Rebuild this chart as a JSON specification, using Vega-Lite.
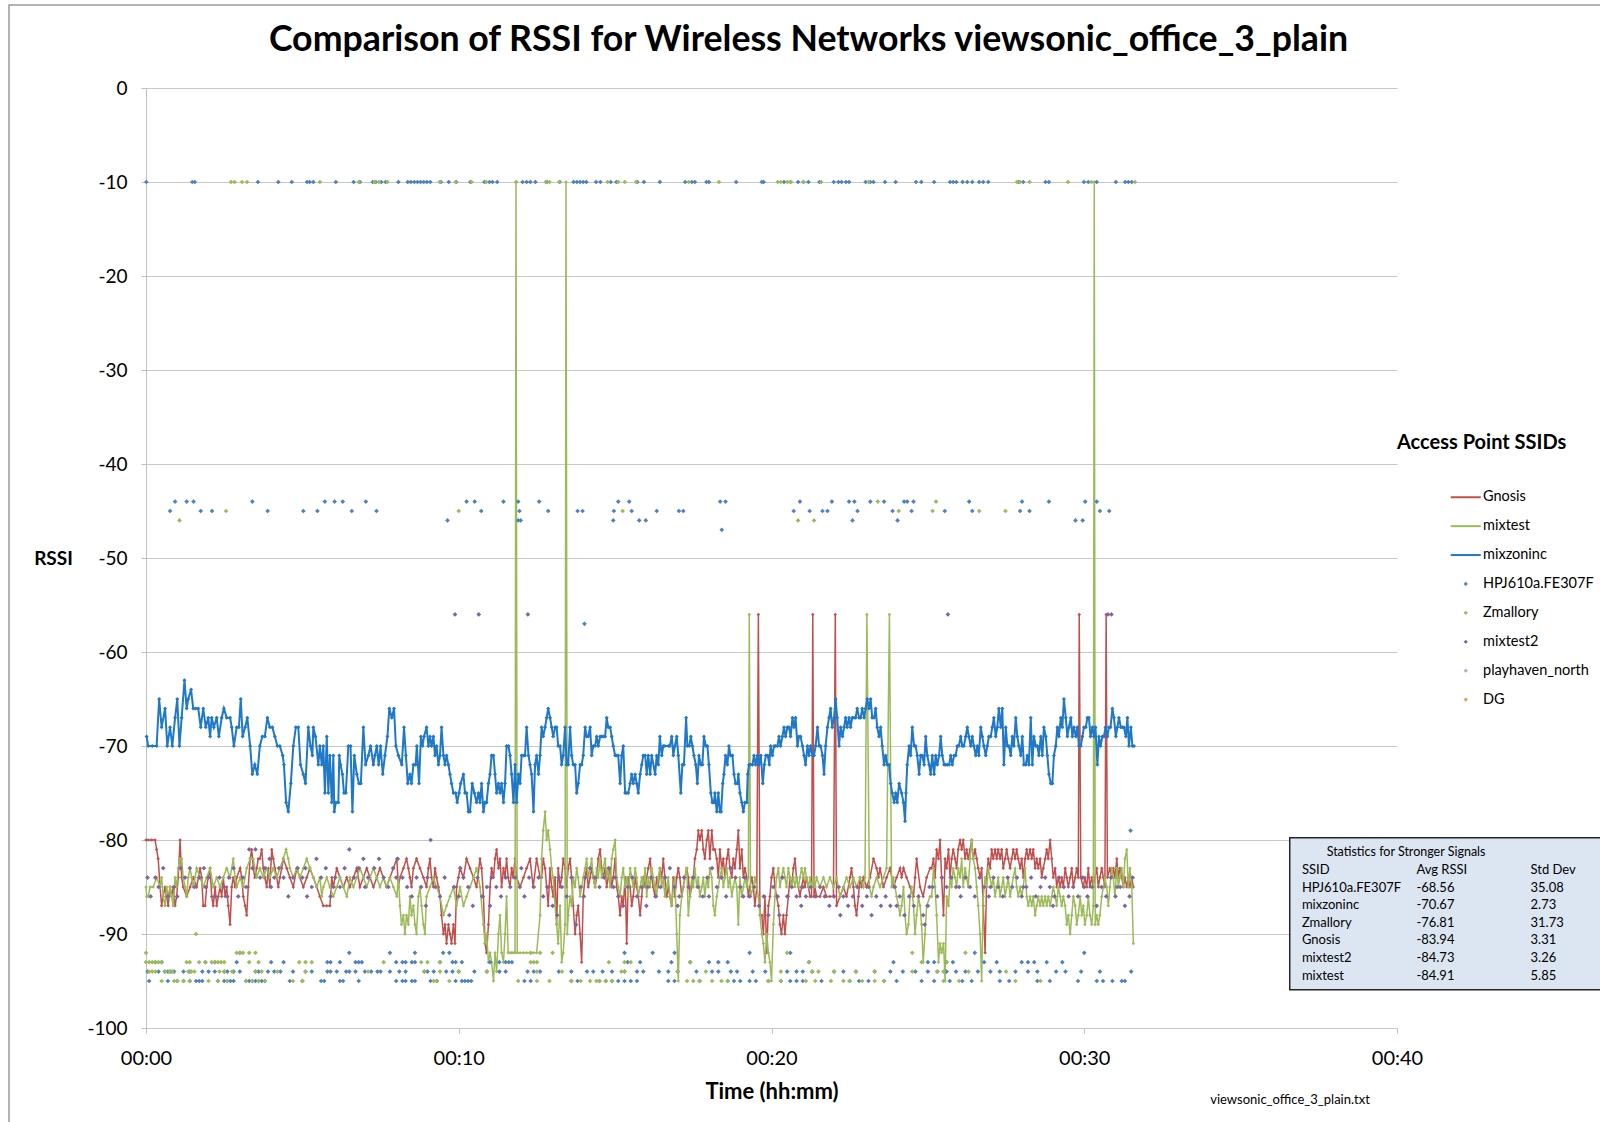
{
"$schema": "https://vega.github.io/schema/vega-lite/v6.json",
"width": 1251, "height": 940,
"autosize": {"type": "none"},
"padding": {"left": 146, "top": 88, "right": 203, "bottom": 94},
"background": "white",
"title": {"text": "Comparison of RSSI for Wireless Networks viewsonic_office_3_plain", "fontSize": 35.7, "font": "Lato", "fontWeight": "bold", "color": "#000000", "anchor": "middle", "frame": "group", "dx": 37, "offset": -82, "baseline": "alphabetic"},
"config": {"font": "Lato", "view": {"stroke": null}, "axis": {"labelFont": "Lato", "titleFont": "Lato", "labelColor": "#000000", "titleColor": "#000000"}},
"datasets": {
"mz": [{"t":0.02,"v":-69},{"t":0.07,"v":-70},{"t":0.2,"v":-70},{"t":0.34,"v":-70},{"t":0.42,"v":-65},{"t":0.5,"v":-68},{"t":0.61,"v":-66},{"t":0.68,"v":-70},{"t":0.77,"v":-68},{"t":0.84,"v":-70},{"t":0.93,"v":-67},{"t":1.0,"v":-65},{"t":1.07,"v":-70},{"t":1.14,"v":-67},{"t":1.23,"v":-63},{"t":1.3,"v":-66},{"t":1.35,"v":-65},{"t":1.44,"v":-64},{"t":1.51,"v":-66},{"t":1.59,"v":-66},{"t":1.67,"v":-66},{"t":1.75,"v":-68},{"t":1.83,"v":-66},{"t":1.91,"v":-68},{"t":1.99,"v":-67},{"t":2.05,"v":-69},{"t":2.1,"v":-67},{"t":2.17,"v":-68},{"t":2.26,"v":-67},{"t":2.33,"v":-69},{"t":2.42,"v":-67},{"t":2.49,"v":-66},{"t":2.58,"v":-67},{"t":2.69,"v":-67},{"t":2.74,"v":-68},{"t":2.81,"v":-70},{"t":2.9,"v":-68},{"t":2.97,"v":-68},{"t":3.03,"v":-65},{"t":3.09,"v":-69},{"t":3.17,"v":-68},{"t":3.24,"v":-67},{"t":3.33,"v":-70},{"t":3.4,"v":-73},{"t":3.48,"v":-72},{"t":3.56,"v":-73},{"t":3.64,"v":-70},{"t":3.72,"v":-69},{"t":3.8,"v":-69},{"t":3.88,"v":-67},{"t":3.96,"v":-68},{"t":4.04,"v":-68},{"t":4.12,"v":-69},{"t":4.2,"v":-70},{"t":4.28,"v":-70},{"t":4.37,"v":-71},{"t":4.41,"v":-72},{"t":4.48,"v":-76},{"t":4.55,"v":-77},{"t":4.63,"v":-74},{"t":4.71,"v":-70},{"t":4.79,"v":-68},{"t":4.87,"v":-68},{"t":4.94,"v":-72},{"t":5.03,"v":-73},{"t":5.1,"v":-74},{"t":5.19,"v":-68},{"t":5.26,"v":-70},{"t":5.32,"v":-71},{"t":5.35,"v":-68},{"t":5.42,"v":-69},{"t":5.51,"v":-72},{"t":5.56,"v":-70},{"t":5.62,"v":-72},{"t":5.67,"v":-70},{"t":5.72,"v":-75},{"t":5.78,"v":-69},{"t":5.83,"v":-75},{"t":5.88,"v":-71},{"t":5.94,"v":-76},{"t":5.99,"v":-71},{"t":6.02,"v":-77},{"t":6.07,"v":-76},{"t":6.15,"v":-76},{"t":6.18,"v":-71},{"t":6.22,"v":-72},{"t":6.28,"v":-73},{"t":6.33,"v":-75},{"t":6.39,"v":-75},{"t":6.47,"v":-70},{"t":6.54,"v":-70},{"t":6.6,"v":-77},{"t":6.66,"v":-71},{"t":6.74,"v":-73},{"t":6.81,"v":-74},{"t":6.87,"v":-74},{"t":6.95,"v":-68},{"t":7.02,"v":-72},{"t":7.11,"v":-71},{"t":7.18,"v":-70},{"t":7.27,"v":-72},{"t":7.32,"v":-71},{"t":7.38,"v":-70},{"t":7.44,"v":-72},{"t":7.5,"v":-70},{"t":7.57,"v":-73},{"t":7.64,"v":-71},{"t":7.72,"v":-69},{"t":7.78,"v":-66},{"t":7.86,"v":-67},{"t":7.93,"v":-66},{"t":7.99,"v":-70},{"t":8.07,"v":-71},{"t":8.18,"v":-72},{"t":8.25,"v":-68},{"t":8.31,"v":-71},{"t":8.37,"v":-74},{"t":8.44,"v":-73},{"t":8.49,"v":-74},{"t":8.55,"v":-72},{"t":8.62,"v":-72},{"t":8.66,"v":-70},{"t":8.73,"v":-74},{"t":8.79,"v":-69},{"t":8.84,"v":-70},{"t":8.89,"v":-69},{"t":8.97,"v":-68},{"t":9.03,"v":-70},{"t":9.08,"v":-69},{"t":9.13,"v":-70},{"t":9.19,"v":-69},{"t":9.24,"v":-71},{"t":9.29,"v":-70},{"t":9.35,"v":-72},{"t":9.4,"v":-71},{"t":9.45,"v":-68},{"t":9.51,"v":-71},{"t":9.56,"v":-72},{"t":9.61,"v":-71},{"t":9.67,"v":-72},{"t":9.72,"v":-73},{"t":9.77,"v":-74},{"t":9.83,"v":-75},{"t":9.9,"v":-75},{"t":9.95,"v":-76},{"t":10.01,"v":-75},{"t":10.06,"v":-74},{"t":10.15,"v":-73},{"t":10.2,"v":-75},{"t":10.25,"v":-75},{"t":10.31,"v":-77},{"t":10.36,"v":-77},{"t":10.43,"v":-74},{"t":10.5,"v":-75},{"t":10.57,"v":-76},{"t":10.63,"v":-75},{"t":10.68,"v":-76},{"t":10.73,"v":-74},{"t":10.79,"v":-77},{"t":10.84,"v":-76},{"t":10.89,"v":-76},{"t":10.95,"v":-74},{"t":11.0,"v":-73},{"t":11.05,"v":-71},{"t":11.11,"v":-71},{"t":11.16,"v":-73},{"t":11.21,"v":-75},{"t":11.27,"v":-74},{"t":11.32,"v":-75},{"t":11.37,"v":-74},{"t":11.43,"v":-76},{"t":11.48,"v":-74},{"t":11.53,"v":-70},{"t":11.59,"v":-70},{"t":11.64,"v":-71},{"t":11.69,"v":-73},{"t":11.75,"v":-76},{"t":11.8,"v":-72},{"t":11.85,"v":-76},{"t":11.91,"v":-73},{"t":11.96,"v":-74},{"t":12.01,"v":-71},{"t":12.07,"v":-71},{"t":12.12,"v":-71},{"t":12.17,"v":-68},{"t":12.23,"v":-71},{"t":12.28,"v":-72},{"t":12.33,"v":-73},{"t":12.39,"v":-77},{"t":12.44,"v":-72},{"t":12.49,"v":-71},{"t":12.55,"v":-73},{"t":12.6,"v":-71},{"t":12.65,"v":-68},{"t":12.7,"v":-69},{"t":12.76,"v":-68},{"t":12.81,"v":-67},{"t":12.86,"v":-66},{"t":12.92,"v":-67},{"t":12.97,"v":-68},{"t":13.02,"v":-69},{"t":13.08,"v":-68},{"t":13.13,"v":-68},{"t":13.18,"v":-70},{"t":13.24,"v":-70},{"t":13.29,"v":-72},{"t":13.34,"v":-71},{"t":13.4,"v":-68},{"t":13.45,"v":-72},{"t":13.5,"v":-72},{"t":13.56,"v":-68},{"t":13.61,"v":-71},{"t":13.66,"v":-72},{"t":13.72,"v":-72},{"t":13.77,"v":-75},{"t":13.82,"v":-74},{"t":13.88,"v":-72},{"t":13.93,"v":-72},{"t":13.98,"v":-71},{"t":14.04,"v":-68},{"t":14.09,"v":-69},{"t":14.14,"v":-69},{"t":14.2,"v":-68},{"t":14.25,"v":-71},{"t":14.3,"v":-70},{"t":14.36,"v":-70},{"t":14.41,"v":-69},{"t":14.46,"v":-70},{"t":14.52,"v":-69},{"t":14.57,"v":-69},{"t":14.62,"v":-69},{"t":14.68,"v":-69},{"t":14.73,"v":-67},{"t":14.78,"v":-68},{"t":14.84,"v":-68},{"t":14.89,"v":-69},{"t":14.94,"v":-70},{"t":15.0,"v":-71},{"t":15.05,"v":-71},{"t":15.1,"v":-71},{"t":15.16,"v":-74},{"t":15.21,"v":-71},{"t":15.26,"v":-70},{"t":15.32,"v":-75},{"t":15.37,"v":-75},{"t":15.42,"v":-75},{"t":15.48,"v":-74},{"t":15.53,"v":-73},{"t":15.58,"v":-74},{"t":15.64,"v":-73},{"t":15.69,"v":-74},{"t":15.74,"v":-75},{"t":15.8,"v":-73},{"t":15.85,"v":-72},{"t":15.9,"v":-71},{"t":15.96,"v":-71},{"t":16.01,"v":-73},{"t":16.06,"v":-71},{"t":16.12,"v":-73},{"t":16.17,"v":-71},{"t":16.28,"v":-73},{"t":16.33,"v":-71},{"t":16.38,"v":-72},{"t":16.43,"v":-69},{"t":16.49,"v":-71},{"t":16.54,"v":-70},{"t":16.59,"v":-70},{"t":16.7,"v":-70},{"t":16.75,"v":-70},{"t":16.81,"v":-69},{"t":16.86,"v":-71},{"t":16.91,"v":-70},{"t":16.97,"v":-69},{"t":17.02,"v":-71},{"t":17.1,"v":-75},{"t":17.15,"v":-72},{"t":17.2,"v":-72},{"t":17.27,"v":-67},{"t":17.31,"v":-70},{"t":17.37,"v":-70},{"t":17.42,"v":-69},{"t":17.47,"v":-70},{"t":17.52,"v":-71},{"t":17.58,"v":-72},{"t":17.63,"v":-74},{"t":17.68,"v":-71},{"t":17.74,"v":-72},{"t":17.79,"v":-72},{"t":17.84,"v":-69},{"t":17.9,"v":-70},{"t":17.95,"v":-70},{"t":18.0,"v":-72},{"t":18.06,"v":-75},{"t":18.11,"v":-76},{"t":18.16,"v":-76},{"t":18.19,"v":-75},{"t":18.25,"v":-77},{"t":18.3,"v":-75},{"t":18.35,"v":-77},{"t":18.39,"v":-77},{"t":18.44,"v":-74},{"t":18.48,"v":-73},{"t":18.53,"v":-71},{"t":18.59,"v":-72},{"t":18.64,"v":-70},{"t":18.69,"v":-71},{"t":18.75,"v":-71},{"t":18.8,"v":-73},{"t":18.85,"v":-74},{"t":18.91,"v":-74},{"t":18.94,"v":-73},{"t":18.99,"v":-75},{"t":19.05,"v":-76},{"t":19.1,"v":-77},{"t":19.15,"v":-76},{"t":19.21,"v":-76},{"t":19.24,"v":-73},{"t":19.28,"v":-72},{"t":19.33,"v":-72},{"t":19.39,"v":-72},{"t":19.44,"v":-71},{"t":19.49,"v":-72},{"t":19.55,"v":-71},{"t":19.6,"v":-72},{"t":19.66,"v":-71},{"t":19.72,"v":-74},{"t":19.77,"v":-72},{"t":19.82,"v":-71},{"t":19.88,"v":-71},{"t":19.93,"v":-72},{"t":19.97,"v":-70},{"t":20.03,"v":-71},{"t":20.08,"v":-70},{"t":20.13,"v":-70},{"t":20.19,"v":-70},{"t":20.24,"v":-69},{"t":20.29,"v":-70},{"t":20.35,"v":-69},{"t":20.4,"v":-68},{"t":20.45,"v":-69},{"t":20.51,"v":-68},{"t":20.56,"v":-68},{"t":20.61,"v":-69},{"t":20.67,"v":-67},{"t":20.72,"v":-68},{"t":20.77,"v":-67},{"t":20.83,"v":-70},{"t":20.88,"v":-69},{"t":20.93,"v":-69},{"t":20.99,"v":-70},{"t":21.04,"v":-71},{"t":21.09,"v":-72},{"t":21.15,"v":-70},{"t":21.2,"v":-71},{"t":21.25,"v":-70},{"t":21.31,"v":-71},{"t":21.36,"v":-71},{"t":21.41,"v":-70},{"t":21.47,"v":-68},{"t":21.52,"v":-70},{"t":21.57,"v":-70},{"t":21.63,"v":-71},{"t":21.68,"v":-73},{"t":21.73,"v":-70},{"t":21.79,"v":-68},{"t":21.84,"v":-67},{"t":21.89,"v":-66},{"t":21.94,"v":-68},{"t":22.0,"v":-67},{"t":22.05,"v":-65},{"t":22.1,"v":-67},{"t":22.16,"v":-70},{"t":22.21,"v":-68},{"t":22.27,"v":-69},{"t":22.32,"v":-68},{"t":22.37,"v":-67},{"t":22.42,"v":-68},{"t":22.48,"v":-67},{"t":22.53,"v":-68},{"t":22.58,"v":-67},{"t":22.64,"v":-67},{"t":22.69,"v":-67},{"t":22.74,"v":-66},{"t":22.8,"v":-67},{"t":22.85,"v":-67},{"t":22.9,"v":-66},{"t":22.96,"v":-67},{"t":23.01,"v":-66},{"t":23.06,"v":-65},{"t":23.12,"v":-66},{"t":23.17,"v":-65},{"t":23.22,"v":-67},{"t":23.28,"v":-67},{"t":23.33,"v":-66},{"t":23.38,"v":-68},{"t":23.44,"v":-69},{"t":23.49,"v":-68},{"t":23.54,"v":-70},{"t":23.6,"v":-72},{"t":23.65,"v":-71},{"t":23.7,"v":-72},{"t":23.76,"v":-72},{"t":23.81,"v":-74},{"t":23.86,"v":-75},{"t":23.92,"v":-76},{"t":23.97,"v":-75},{"t":24.02,"v":-76},{"t":24.08,"v":-74},{"t":24.16,"v":-75},{"t":24.22,"v":-76},{"t":24.27,"v":-78},{"t":24.3,"v":-75},{"t":24.34,"v":-72},{"t":24.4,"v":-70},{"t":24.45,"v":-71},{"t":24.5,"v":-68},{"t":24.56,"v":-70},{"t":24.61,"v":-70},{"t":24.66,"v":-71},{"t":24.72,"v":-73},{"t":24.77,"v":-71},{"t":24.82,"v":-71},{"t":24.88,"v":-72},{"t":24.93,"v":-69},{"t":24.98,"v":-71},{"t":25.04,"v":-72},{"t":25.09,"v":-73},{"t":25.14,"v":-71},{"t":25.2,"v":-73},{"t":25.25,"v":-71},{"t":25.3,"v":-72},{"t":25.36,"v":-71},{"t":25.41,"v":-69},{"t":25.46,"v":-71},{"t":25.52,"v":-72},{"t":25.57,"v":-72},{"t":25.62,"v":-72},{"t":25.68,"v":-72},{"t":25.73,"v":-71},{"t":25.78,"v":-72},{"t":25.84,"v":-71},{"t":25.89,"v":-71},{"t":25.94,"v":-70},{"t":25.99,"v":-70},{"t":26.05,"v":-69},{"t":26.1,"v":-70},{"t":26.15,"v":-70},{"t":26.21,"v":-69},{"t":26.26,"v":-68},{"t":26.31,"v":-69},{"t":26.37,"v":-70},{"t":26.42,"v":-69},{"t":26.47,"v":-70},{"t":26.53,"v":-71},{"t":26.58,"v":-70},{"t":26.63,"v":-71},{"t":26.69,"v":-68},{"t":26.74,"v":-69},{"t":26.79,"v":-70},{"t":26.85,"v":-71},{"t":26.9,"v":-70},{"t":26.95,"v":-69},{"t":27.01,"v":-69},{"t":27.06,"v":-68},{"t":27.11,"v":-67},{"t":27.17,"v":-69},{"t":27.22,"v":-68},{"t":27.27,"v":-66},{"t":27.33,"v":-68},{"t":27.38,"v":-66},{"t":27.43,"v":-72},{"t":27.49,"v":-68},{"t":27.54,"v":-70},{"t":27.59,"v":-70},{"t":27.65,"v":-71},{"t":27.7,"v":-69},{"t":27.75,"v":-70},{"t":27.81,"v":-67},{"t":27.86,"v":-69},{"t":27.91,"v":-70},{"t":27.97,"v":-71},{"t":28.02,"v":-69},{"t":28.07,"v":-72},{"t":28.13,"v":-72},{"t":28.18,"v":-71},{"t":28.23,"v":-72},{"t":28.29,"v":-67},{"t":28.34,"v":-72},{"t":28.39,"v":-69},{"t":28.45,"v":-70},{"t":28.5,"v":-70},{"t":28.55,"v":-71},{"t":28.61,"v":-69},{"t":28.66,"v":-71},{"t":28.71,"v":-68},{"t":28.77,"v":-69},{"t":28.82,"v":-71},{"t":28.87,"v":-73},{"t":28.93,"v":-74},{"t":28.98,"v":-74},{"t":29.03,"v":-71},{"t":29.09,"v":-70},{"t":29.14,"v":-68},{"t":29.19,"v":-69},{"t":29.25,"v":-67},{"t":29.3,"v":-68},{"t":29.35,"v":-65},{"t":29.41,"v":-67},{"t":29.46,"v":-69},{"t":29.51,"v":-68},{"t":29.57,"v":-67},{"t":29.62,"v":-69},{"t":29.67,"v":-68},{"t":29.73,"v":-69},{"t":29.78,"v":-68},{"t":29.83,"v":-70},{"t":29.89,"v":-70},{"t":29.94,"v":-69},{"t":29.99,"v":-68},{"t":30.05,"v":-68},{"t":30.1,"v":-67},{"t":30.15,"v":-67},{"t":30.2,"v":-69},{"t":30.26,"v":-68},{"t":30.31,"v":-69},{"t":30.36,"v":-68},{"t":30.42,"v":-72},{"t":30.47,"v":-69},{"t":30.52,"v":-70},{"t":30.58,"v":-69},{"t":30.63,"v":-69},{"t":30.68,"v":-68},{"t":30.74,"v":-69},{"t":30.79,"v":-68},{"t":30.84,"v":-68},{"t":30.9,"v":-66},{"t":30.95,"v":-67},{"t":31.01,"v":-69},{"t":31.06,"v":-68},{"t":31.11,"v":-67},{"t":31.17,"v":-68},{"t":31.22,"v":-68},{"t":31.27,"v":-68},{"t":31.33,"v":-69},{"t":31.38,"v":-67},{"t":31.43,"v":-70},{"t":31.49,"v":-68},{"t":31.54,"v":-70},{"t":31.59,"v":-70}],
"gn": [{"t":0.0,"v":-80},{"t":0.07,"v":-80},{"t":0.18,"v":-80},{"t":0.29,"v":-80},{"t":0.34,"v":-81},{"t":0.39,"v":-82},{"t":0.45,"v":-85},{"t":0.5,"v":-87},{"t":0.55,"v":-86},{"t":0.61,"v":-85},{"t":0.66,"v":-86},{"t":0.71,"v":-87},{"t":0.77,"v":-85},{"t":0.82,"v":-86},{"t":0.87,"v":-85},{"t":0.93,"v":-87},{"t":0.98,"v":-86},{"t":1.03,"v":-84},{"t":1.09,"v":-80},{"t":1.14,"v":-84},{"t":1.19,"v":-85},{"t":1.3,"v":-86},{"t":1.41,"v":-85},{"t":1.51,"v":-84},{"t":1.62,"v":-85},{"t":1.73,"v":-83},{"t":1.78,"v":-84},{"t":1.83,"v":-87},{"t":1.89,"v":-87},{"t":1.94,"v":-85},{"t":1.99,"v":-84},{"t":2.05,"v":-83},{"t":2.1,"v":-86},{"t":2.15,"v":-87},{"t":2.21,"v":-85},{"t":2.26,"v":-87},{"t":2.31,"v":-86},{"t":2.37,"v":-85},{"t":2.42,"v":-86},{"t":2.47,"v":-84},{"t":2.53,"v":-86},{"t":2.58,"v":-85},{"t":2.63,"v":-87},{"t":2.69,"v":-89},{"t":2.74,"v":-85},{"t":2.79,"v":-84},{"t":2.85,"v":-85},{"t":2.9,"v":-84},{"t":3.01,"v":-83},{"t":3.06,"v":-84},{"t":3.11,"v":-86},{"t":3.17,"v":-87},{"t":3.22,"v":-88},{"t":3.27,"v":-85},{"t":3.33,"v":-82},{"t":3.38,"v":-81},{"t":3.43,"v":-83},{"t":3.48,"v":-84},{"t":3.54,"v":-83},{"t":3.59,"v":-82},{"t":3.64,"v":-82},{"t":3.7,"v":-81},{"t":3.75,"v":-83},{"t":3.8,"v":-84},{"t":3.86,"v":-85},{"t":3.91,"v":-83},{"t":3.96,"v":-85},{"t":4.02,"v":-81},{"t":4.07,"v":-82},{"t":4.12,"v":-83},{"t":4.18,"v":-84},{"t":4.23,"v":-85},{"t":4.28,"v":-84},{"t":4.34,"v":-83},{"t":4.39,"v":-82},{"t":4.5,"v":-83},{"t":4.6,"v":-84},{"t":4.71,"v":-85},{"t":4.82,"v":-83},{"t":4.92,"v":-84},{"t":5.03,"v":-85},{"t":5.14,"v":-84},{"t":5.24,"v":-83},{"t":5.35,"v":-84},{"t":5.46,"v":-85},{"t":5.56,"v":-86},{"t":5.67,"v":-87},{"t":5.78,"v":-87},{"t":5.88,"v":-87},{"t":5.94,"v":-84},{"t":5.99,"v":-85},{"t":6.1,"v":-83},{"t":6.2,"v":-84},{"t":6.31,"v":-85},{"t":6.42,"v":-84},{"t":6.52,"v":-85},{"t":6.63,"v":-84},{"t":6.74,"v":-83},{"t":6.84,"v":-85},{"t":6.95,"v":-84},{"t":7.06,"v":-83},{"t":7.16,"v":-84},{"t":7.27,"v":-85},{"t":7.38,"v":-84},{"t":7.48,"v":-83},{"t":7.59,"v":-84},{"t":7.69,"v":-85},{"t":7.8,"v":-84},{"t":7.91,"v":-83},{"t":8.02,"v":-82},{"t":8.07,"v":-85},{"t":8.12,"v":-84},{"t":8.23,"v":-83},{"t":8.33,"v":-82},{"t":8.39,"v":-83},{"t":8.44,"v":-84},{"t":8.49,"v":-85},{"t":8.55,"v":-83},{"t":8.65,"v":-82},{"t":8.76,"v":-83},{"t":8.87,"v":-84},{"t":8.97,"v":-85},{"t":9.03,"v":-83},{"t":9.08,"v":-82},{"t":9.13,"v":-84},{"t":9.19,"v":-85},{"t":9.24,"v":-83},{"t":9.29,"v":-84},{"t":9.35,"v":-85},{"t":9.4,"v":-86},{"t":9.45,"v":-88},{"t":9.51,"v":-90},{"t":9.56,"v":-89},{"t":9.61,"v":-91},{"t":9.67,"v":-89},{"t":9.72,"v":-90},{"t":9.77,"v":-91},{"t":9.83,"v":-89},{"t":9.88,"v":-91},{"t":9.93,"v":-85},{"t":9.99,"v":-84},{"t":10.04,"v":-83},{"t":10.15,"v":-84},{"t":10.25,"v":-82},{"t":10.36,"v":-83},{"t":10.47,"v":-84},{"t":10.57,"v":-85},{"t":10.68,"v":-82},{"t":10.73,"v":-83},{"t":10.79,"v":-86},{"t":10.84,"v":-91},{"t":10.89,"v":-92},{"t":10.95,"v":-89},{"t":11.0,"v":-85},{"t":11.05,"v":-83},{"t":11.11,"v":-84},{"t":11.16,"v":-82},{"t":11.21,"v":-81},{"t":11.27,"v":-83},{"t":11.32,"v":-82},{"t":11.37,"v":-85},{"t":11.43,"v":-83},{"t":11.48,"v":-84},{"t":11.53,"v":-82},{"t":11.58,"v":-84},{"t":11.64,"v":-85},{"t":11.69,"v":-83},{"t":11.74,"v":-84},{"t":11.8,"v":-82},{"t":11.85,"v":-84},{"t":11.96,"v":-85},{"t":12.07,"v":-84},{"t":12.17,"v":-83},{"t":12.28,"v":-82},{"t":12.38,"v":-85},{"t":12.49,"v":-82},{"t":12.6,"v":-84},{"t":12.65,"v":-84},{"t":12.7,"v":-82},{"t":12.76,"v":-83},{"t":12.81,"v":-85},{"t":12.86,"v":-87},{"t":12.92,"v":-83},{"t":12.97,"v":-85},{"t":13.02,"v":-86},{"t":13.08,"v":-84},{"t":13.13,"v":-89},{"t":13.18,"v":-83},{"t":13.24,"v":-85},{"t":13.29,"v":-84},{"t":13.34,"v":-82},{"t":13.4,"v":-83},{"t":13.45,"v":-85},{"t":13.5,"v":-83},{"t":13.56,"v":-82},{"t":13.61,"v":-84},{"t":13.66,"v":-87},{"t":13.72,"v":-90},{"t":13.77,"v":-88},{"t":13.82,"v":-87},{"t":13.88,"v":-90},{"t":13.93,"v":-93},{"t":13.98,"v":-86},{"t":14.04,"v":-84},{"t":14.09,"v":-83},{"t":14.14,"v":-85},{"t":14.2,"v":-84},{"t":14.25,"v":-83},{"t":14.3,"v":-84},{"t":14.36,"v":-85},{"t":14.41,"v":-84},{"t":14.46,"v":-82},{"t":14.52,"v":-81},{"t":14.57,"v":-83},{"t":14.62,"v":-84},{"t":14.68,"v":-83},{"t":14.73,"v":-85},{"t":14.78,"v":-84},{"t":14.84,"v":-83},{"t":14.89,"v":-85},{"t":14.94,"v":-84},{"t":15.0,"v":-82},{"t":15.05,"v":-85},{"t":15.1,"v":-86},{"t":15.16,"v":-88},{"t":15.21,"v":-86},{"t":15.26,"v":-87},{"t":15.32,"v":-84},{"t":15.37,"v":-91},{"t":15.42,"v":-84},{"t":15.48,"v":-85},{"t":15.53,"v":-87},{"t":15.58,"v":-86},{"t":15.64,"v":-84},{"t":15.69,"v":-85},{"t":15.74,"v":-86},{"t":15.8,"v":-88},{"t":15.85,"v":-86},{"t":15.9,"v":-84},{"t":15.96,"v":-85},{"t":16.01,"v":-84},{"t":16.06,"v":-83},{"t":16.12,"v":-82},{"t":16.17,"v":-84},{"t":16.22,"v":-85},{"t":16.27,"v":-86},{"t":16.33,"v":-84},{"t":16.38,"v":-85},{"t":16.43,"v":-83},{"t":16.49,"v":-84},{"t":16.54,"v":-82},{"t":16.59,"v":-84},{"t":16.65,"v":-86},{"t":16.7,"v":-85},{"t":16.75,"v":-86},{"t":16.81,"v":-87},{"t":16.86,"v":-84},{"t":16.91,"v":-86},{"t":16.97,"v":-84},{"t":17.02,"v":-83},{"t":17.07,"v":-84},{"t":17.13,"v":-86},{"t":17.18,"v":-85},{"t":17.23,"v":-84},{"t":17.29,"v":-83},{"t":17.34,"v":-84},{"t":17.39,"v":-86},{"t":17.45,"v":-85},{"t":17.5,"v":-84},{"t":17.55,"v":-82},{"t":17.61,"v":-81},{"t":17.66,"v":-79},{"t":17.71,"v":-80},{"t":17.77,"v":-79},{"t":17.82,"v":-81},{"t":17.87,"v":-82},{"t":17.93,"v":-80},{"t":17.98,"v":-79},{"t":18.03,"v":-82},{"t":18.09,"v":-79},{"t":18.14,"v":-81},{"t":18.19,"v":-81},{"t":18.25,"v":-82},{"t":18.3,"v":-84},{"t":18.35,"v":-81},{"t":18.41,"v":-83},{"t":18.46,"v":-82},{"t":18.51,"v":-84},{"t":18.57,"v":-82},{"t":18.62,"v":-81},{"t":18.67,"v":-83},{"t":18.73,"v":-84},{"t":18.78,"v":-82},{"t":18.83,"v":-83},{"t":18.89,"v":-81},{"t":18.94,"v":-79},{"t":18.99,"v":-83},{"t":19.05,"v":-81},{"t":19.1,"v":-84},{"t":19.15,"v":-83},{"t":19.21,"v":-84},{"t":19.26,"v":-86},{"t":19.31,"v":-85},{"t":19.37,"v":-84},{"t":19.42,"v":-85},{"t":19.47,"v":-87},{"t":19.53,"v":-85},{"t":19.58,"v":-56},{"t":19.63,"v":-88},{"t":19.69,"v":-88},{"t":19.74,"v":-90},{"t":19.79,"v":-86},{"t":19.85,"v":-92},{"t":19.9,"v":-87},{"t":19.95,"v":-86},{"t":20.0,"v":-84},{"t":20.06,"v":-83},{"t":20.11,"v":-85},{"t":20.16,"v":-86},{"t":20.22,"v":-87},{"t":20.27,"v":-89},{"t":20.32,"v":-90},{"t":20.38,"v":-88},{"t":20.43,"v":-90},{"t":20.48,"v":-88},{"t":20.54,"v":-86},{"t":20.59,"v":-84},{"t":20.64,"v":-85},{"t":20.7,"v":-83},{"t":20.75,"v":-82},{"t":20.8,"v":-84},{"t":20.86,"v":-85},{"t":20.91,"v":-86},{"t":20.96,"v":-85},{"t":21.02,"v":-84},{"t":21.07,"v":-85},{"t":21.12,"v":-84},{"t":21.18,"v":-85},{"t":21.23,"v":-86},{"t":21.28,"v":-86},{"t":21.32,"v":-56},{"t":21.36,"v":-86},{"t":21.39,"v":-85},{"t":21.44,"v":-86},{"t":21.55,"v":-86},{"t":21.66,"v":-85},{"t":21.76,"v":-86},{"t":21.87,"v":-86},{"t":21.98,"v":-86},{"t":22.04,"v":-56},{"t":22.08,"v":-87},{"t":22.19,"v":-86},{"t":22.3,"v":-85},{"t":22.4,"v":-86},{"t":22.51,"v":-84},{"t":22.56,"v":-83},{"t":22.62,"v":-85},{"t":22.67,"v":-87},{"t":22.72,"v":-88},{"t":22.78,"v":-86},{"t":22.83,"v":-84},{"t":22.88,"v":-85},{"t":22.94,"v":-84},{"t":23.04,"v":-85},{"t":23.15,"v":-84},{"t":23.26,"v":-82},{"t":23.36,"v":-83},{"t":23.42,"v":-84},{"t":23.47,"v":-83},{"t":23.58,"v":-85},{"t":23.68,"v":-84},{"t":23.79,"v":-83},{"t":23.9,"v":-85},{"t":24.0,"v":-84},{"t":24.11,"v":-83},{"t":24.16,"v":-84},{"t":24.22,"v":-83},{"t":24.32,"v":-84},{"t":24.43,"v":-85},{"t":24.54,"v":-86},{"t":24.59,"v":-84},{"t":24.64,"v":-82},{"t":24.75,"v":-85},{"t":24.85,"v":-86},{"t":24.96,"v":-84},{"t":25.07,"v":-83},{"t":25.12,"v":-83},{"t":25.18,"v":-82},{"t":25.23,"v":-84},{"t":25.28,"v":-81},{"t":25.34,"v":-82},{"t":25.39,"v":-80},{"t":25.44,"v":-84},{"t":25.5,"v":-88},{"t":25.55,"v":-82},{"t":25.6,"v":-83},{"t":25.66,"v":-81},{"t":25.71,"v":-84},{"t":25.76,"v":-82},{"t":25.81,"v":-81},{"t":25.87,"v":-82},{"t":25.92,"v":-83},{"t":25.97,"v":-81},{"t":26.03,"v":-80},{"t":26.08,"v":-81},{"t":26.13,"v":-80},{"t":26.19,"v":-82},{"t":26.24,"v":-81},{"t":26.29,"v":-82},{"t":26.35,"v":-81},{"t":26.4,"v":-80},{"t":26.45,"v":-82},{"t":26.51,"v":-81},{"t":26.56,"v":-82},{"t":26.61,"v":-83},{"t":26.67,"v":-84},{"t":26.72,"v":-83},{"t":26.77,"v":-87},{"t":26.83,"v":-92},{"t":26.88,"v":-84},{"t":26.93,"v":-82},{"t":26.99,"v":-83},{"t":27.04,"v":-81},{"t":27.09,"v":-82},{"t":27.15,"v":-81},{"t":27.2,"v":-82},{"t":27.25,"v":-81},{"t":27.31,"v":-82},{"t":27.36,"v":-81},{"t":27.41,"v":-83},{"t":27.47,"v":-82},{"t":27.52,"v":-81},{"t":27.57,"v":-82},{"t":27.63,"v":-83},{"t":27.68,"v":-82},{"t":27.73,"v":-81},{"t":27.79,"v":-82},{"t":27.84,"v":-81},{"t":27.89,"v":-82},{"t":27.95,"v":-83},{"t":28.0,"v":-82},{"t":28.05,"v":-84},{"t":28.11,"v":-82},{"t":28.16,"v":-81},{"t":28.21,"v":-82},{"t":28.27,"v":-81},{"t":28.32,"v":-82},{"t":28.37,"v":-81},{"t":28.43,"v":-83},{"t":28.48,"v":-82},{"t":28.53,"v":-83},{"t":28.59,"v":-82},{"t":28.64,"v":-84},{"t":28.69,"v":-83},{"t":28.75,"v":-82},{"t":28.8,"v":-81},{"t":28.85,"v":-82},{"t":28.91,"v":-80},{"t":28.96,"v":-82},{"t":29.01,"v":-84},{"t":29.07,"v":-83},{"t":29.12,"v":-85},{"t":29.17,"v":-84},{"t":29.23,"v":-85},{"t":29.28,"v":-84},{"t":29.33,"v":-85},{"t":29.39,"v":-83},{"t":29.44,"v":-84},{"t":29.49,"v":-85},{"t":29.55,"v":-84},{"t":29.6,"v":-83},{"t":29.65,"v":-85},{"t":29.71,"v":-84},{"t":29.76,"v":-83},{"t":29.81,"v":-84},{"t":29.84,"v":-56},{"t":29.89,"v":-84},{"t":29.97,"v":-85},{"t":30.02,"v":-84},{"t":30.08,"v":-85},{"t":30.13,"v":-83},{"t":30.18,"v":-85},{"t":30.24,"v":-84},{"t":30.29,"v":-85},{"t":30.34,"v":-84},{"t":30.4,"v":-83},{"t":30.45,"v":-85},{"t":30.5,"v":-84},{"t":30.56,"v":-83},{"t":30.61,"v":-84},{"t":30.66,"v":-85},{"t":30.7,"v":-56},{"t":30.74,"v":-84},{"t":30.82,"v":-83},{"t":30.88,"v":-84},{"t":30.93,"v":-83},{"t":30.98,"v":-84},{"t":31.04,"v":-82},{"t":31.09,"v":-84},{"t":31.14,"v":-83},{"t":31.2,"v":-84},{"t":31.25,"v":-85},{"t":31.3,"v":-84},{"t":31.36,"v":-85},{"t":31.41,"v":-84},{"t":31.46,"v":-85},{"t":31.52,"v":-84},{"t":31.57,"v":-85}],
"mt": [{"t":0.0,"v":-85},{"t":0.02,"v":-86},{"t":0.07,"v":-86},{"t":0.13,"v":-85},{"t":0.23,"v":-85},{"t":0.34,"v":-84},{"t":0.45,"v":-85},{"t":0.5,"v":-84},{"t":0.55,"v":-86},{"t":0.61,"v":-87},{"t":0.66,"v":-85},{"t":0.71,"v":-86},{"t":0.77,"v":-85},{"t":0.82,"v":-86},{"t":0.87,"v":-87},{"t":0.93,"v":-84},{"t":0.98,"v":-85},{"t":1.03,"v":-83},{"t":1.09,"v":-82},{"t":1.14,"v":-82},{"t":1.19,"v":-84},{"t":1.25,"v":-85},{"t":1.3,"v":-86},{"t":1.35,"v":-84},{"t":1.41,"v":-83},{"t":1.46,"v":-84},{"t":1.51,"v":-85},{"t":1.57,"v":-84},{"t":1.62,"v":-83},{"t":1.73,"v":-84},{"t":1.83,"v":-85},{"t":1.94,"v":-84},{"t":2.05,"v":-83},{"t":2.15,"v":-85},{"t":2.26,"v":-84},{"t":2.37,"v":-85},{"t":2.47,"v":-84},{"t":2.58,"v":-83},{"t":2.69,"v":-84},{"t":2.79,"v":-82},{"t":2.85,"v":-84},{"t":2.9,"v":-85},{"t":3.01,"v":-84},{"t":3.11,"v":-85},{"t":3.22,"v":-83},{"t":3.33,"v":-82},{"t":3.43,"v":-82},{"t":3.54,"v":-84},{"t":3.64,"v":-83},{"t":3.75,"v":-84},{"t":3.86,"v":-83},{"t":3.96,"v":-84},{"t":4.07,"v":-83},{"t":4.18,"v":-84},{"t":4.28,"v":-83},{"t":4.39,"v":-82},{"t":4.48,"v":-81},{"t":4.55,"v":-82},{"t":4.6,"v":-83},{"t":4.71,"v":-84},{"t":4.82,"v":-83},{"t":4.92,"v":-84},{"t":5.03,"v":-83},{"t":5.14,"v":-82},{"t":5.24,"v":-83},{"t":5.35,"v":-84},{"t":5.46,"v":-85},{"t":5.56,"v":-84},{"t":5.62,"v":-86},{"t":5.67,"v":-85},{"t":5.78,"v":-84},{"t":5.88,"v":-85},{"t":5.99,"v":-86},{"t":6.1,"v":-85},{"t":6.2,"v":-84},{"t":6.31,"v":-85},{"t":6.42,"v":-86},{"t":6.52,"v":-84},{"t":6.63,"v":-85},{"t":6.74,"v":-84},{"t":6.84,"v":-83},{"t":6.95,"v":-84},{"t":7.06,"v":-85},{"t":7.16,"v":-84},{"t":7.27,"v":-83},{"t":7.38,"v":-84},{"t":7.48,"v":-85},{"t":7.59,"v":-84},{"t":7.69,"v":-85},{"t":7.8,"v":-84},{"t":7.91,"v":-85},{"t":8.02,"v":-86},{"t":8.07,"v":-84},{"t":8.12,"v":-87},{"t":8.17,"v":-89},{"t":8.23,"v":-88},{"t":8.28,"v":-90},{"t":8.33,"v":-88},{"t":8.39,"v":-89},{"t":8.44,"v":-86},{"t":8.49,"v":-88},{"t":8.55,"v":-87},{"t":8.6,"v":-89},{"t":8.65,"v":-90},{"t":8.71,"v":-86},{"t":8.76,"v":-85},{"t":8.81,"v":-87},{"t":8.87,"v":-89},{"t":8.92,"v":-90},{"t":8.97,"v":-86},{"t":9.08,"v":-85},{"t":9.19,"v":-84},{"t":9.29,"v":-85},{"t":9.4,"v":-86},{"t":9.51,"v":-88},{"t":9.61,"v":-87},{"t":9.72,"v":-86},{"t":9.83,"v":-85},{"t":9.93,"v":-87},{"t":10.04,"v":-85},{"t":10.15,"v":-87},{"t":10.25,"v":-86},{"t":10.36,"v":-85},{"t":10.47,"v":-84},{"t":10.57,"v":-83},{"t":10.68,"v":-85},{"t":10.79,"v":-89},{"t":10.84,"v":-91},{"t":10.89,"v":-90},{"t":10.95,"v":-93},{"t":11.0,"v":-92},{"t":11.05,"v":-93},{"t":11.11,"v":-95},{"t":11.16,"v":-92},{"t":11.21,"v":-94},{"t":11.27,"v":-90},{"t":11.32,"v":-88},{"t":11.37,"v":-92},{"t":11.43,"v":-93},{"t":11.48,"v":-90},{"t":11.53,"v":-86},{"t":11.58,"v":-92},{"t":11.64,"v":-92},{"t":11.69,"v":-92},{"t":11.74,"v":-92},{"t":11.8,"v":-92},{"t":11.83,"v":-10},{"t":11.87,"v":-92},{"t":11.96,"v":-92},{"t":12.07,"v":-92},{"t":12.17,"v":-92},{"t":12.28,"v":-92},{"t":12.38,"v":-92},{"t":12.49,"v":-92},{"t":12.6,"v":-88},{"t":12.65,"v":-82},{"t":12.7,"v":-79},{"t":12.76,"v":-77},{"t":12.81,"v":-80},{"t":12.86,"v":-79},{"t":12.92,"v":-81},{"t":12.97,"v":-83},{"t":13.02,"v":-84},{"t":13.08,"v":-87},{"t":13.13,"v":-89},{"t":13.18,"v":-91},{"t":13.24,"v":-87},{"t":13.29,"v":-93},{"t":13.34,"v":-92},{"t":13.4,"v":-89},{"t":13.43,"v":-10},{"t":13.47,"v":-90},{"t":13.5,"v":-88},{"t":13.56,"v":-86},{"t":13.61,"v":-87},{"t":13.66,"v":-84},{"t":13.72,"v":-85},{"t":13.77,"v":-83},{"t":13.82,"v":-84},{"t":13.88,"v":-86},{"t":13.93,"v":-85},{"t":13.98,"v":-84},{"t":14.04,"v":-83},{"t":14.09,"v":-82},{"t":14.14,"v":-84},{"t":14.2,"v":-83},{"t":14.25,"v":-82},{"t":14.3,"v":-84},{"t":14.36,"v":-85},{"t":14.41,"v":-83},{"t":14.46,"v":-84},{"t":14.52,"v":-82},{"t":14.57,"v":-84},{"t":14.62,"v":-83},{"t":14.68,"v":-82},{"t":14.73,"v":-84},{"t":14.78,"v":-83},{"t":14.84,"v":-85},{"t":14.89,"v":-82},{"t":14.94,"v":-81},{"t":15.0,"v":-80},{"t":15.05,"v":-84},{"t":15.1,"v":-85},{"t":15.16,"v":-86},{"t":15.21,"v":-84},{"t":15.26,"v":-83},{"t":15.32,"v":-85},{"t":15.37,"v":-84},{"t":15.42,"v":-86},{"t":15.48,"v":-83},{"t":15.53,"v":-84},{"t":15.58,"v":-85},{"t":15.64,"v":-83},{"t":15.69,"v":-84},{"t":15.74,"v":-86},{"t":15.8,"v":-85},{"t":15.85,"v":-84},{"t":15.9,"v":-85},{"t":15.96,"v":-83},{"t":16.01,"v":-86},{"t":16.06,"v":-84},{"t":16.12,"v":-85},{"t":16.17,"v":-83},{"t":16.22,"v":-84},{"t":16.27,"v":-85},{"t":16.33,"v":-86},{"t":16.38,"v":-84},{"t":16.43,"v":-83},{"t":16.49,"v":-85},{"t":16.54,"v":-84},{"t":16.59,"v":-86},{"t":16.65,"v":-85},{"t":16.7,"v":-84},{"t":16.75,"v":-86},{"t":16.81,"v":-87},{"t":16.86,"v":-85},{"t":16.91,"v":-84},{"t":16.97,"v":-90},{"t":17.02,"v":-95},{"t":17.07,"v":-88},{"t":17.13,"v":-86},{"t":17.18,"v":-85},{"t":17.23,"v":-84},{"t":17.29,"v":-83},{"t":17.34,"v":-88},{"t":17.39,"v":-86},{"t":17.45,"v":-84},{"t":17.5,"v":-85},{"t":17.55,"v":-83},{"t":17.61,"v":-85},{"t":17.66,"v":-84},{"t":17.71,"v":-86},{"t":17.77,"v":-85},{"t":17.82,"v":-84},{"t":17.87,"v":-86},{"t":17.93,"v":-84},{"t":17.98,"v":-85},{"t":18.03,"v":-83},{"t":18.09,"v":-84},{"t":18.14,"v":-87},{"t":18.19,"v":-88},{"t":18.25,"v":-86},{"t":18.3,"v":-85},{"t":18.35,"v":-84},{"t":18.41,"v":-83},{"t":18.46,"v":-85},{"t":18.51,"v":-84},{"t":18.57,"v":-83},{"t":18.62,"v":-85},{"t":18.67,"v":-84},{"t":18.73,"v":-86},{"t":18.78,"v":-85},{"t":18.83,"v":-84},{"t":18.89,"v":-85},{"t":18.94,"v":-89},{"t":18.99,"v":-84},{"t":19.05,"v":-86},{"t":19.1,"v":-85},{"t":19.15,"v":-84},{"t":19.21,"v":-85},{"t":19.26,"v":-84},{"t":19.29,"v":-56},{"t":19.33,"v":-86},{"t":19.42,"v":-85},{"t":19.47,"v":-84},{"t":19.53,"v":-85},{"t":19.58,"v":-86},{"t":19.63,"v":-88},{"t":19.69,"v":-90},{"t":19.74,"v":-91},{"t":19.79,"v":-93},{"t":19.85,"v":-90},{"t":19.9,"v":-92},{"t":19.95,"v":-93},{"t":20.0,"v":-95},{"t":20.06,"v":-89},{"t":20.11,"v":-86},{"t":20.16,"v":-84},{"t":20.22,"v":-83},{"t":20.27,"v":-85},{"t":20.32,"v":-84},{"t":20.38,"v":-83},{"t":20.43,"v":-84},{"t":20.48,"v":-85},{"t":20.54,"v":-83},{"t":20.59,"v":-84},{"t":20.64,"v":-85},{"t":20.7,"v":-84},{"t":20.75,"v":-85},{"t":20.8,"v":-84},{"t":20.86,"v":-85},{"t":20.91,"v":-84},{"t":20.96,"v":-83},{"t":21.02,"v":-84},{"t":21.07,"v":-83},{"t":21.12,"v":-84},{"t":21.18,"v":-85},{"t":21.23,"v":-84},{"t":21.28,"v":-85},{"t":21.34,"v":-84},{"t":21.39,"v":-85},{"t":21.44,"v":-84},{"t":21.55,"v":-85},{"t":21.66,"v":-84},{"t":21.76,"v":-85},{"t":21.87,"v":-84},{"t":21.98,"v":-85},{"t":22.08,"v":-84},{"t":22.19,"v":-86},{"t":22.3,"v":-85},{"t":22.4,"v":-84},{"t":22.51,"v":-85},{"t":22.62,"v":-84},{"t":22.72,"v":-85},{"t":22.83,"v":-84},{"t":22.94,"v":-85},{"t":22.99,"v":-84},{"t":23.05,"v":-56},{"t":23.13,"v":-85},{"t":23.2,"v":-86},{"t":23.26,"v":-85},{"t":23.36,"v":-84},{"t":23.47,"v":-85},{"t":23.58,"v":-84},{"t":23.68,"v":-83},{"t":23.77,"v":-56},{"t":23.84,"v":-85},{"t":23.9,"v":-84},{"t":23.95,"v":-85},{"t":24.0,"v":-86},{"t":24.06,"v":-87},{"t":24.11,"v":-88},{"t":24.16,"v":-87},{"t":24.22,"v":-85},{"t":24.27,"v":-88},{"t":24.32,"v":-90},{"t":24.38,"v":-89},{"t":24.43,"v":-86},{"t":24.48,"v":-85},{"t":24.54,"v":-87},{"t":24.59,"v":-90},{"t":24.64,"v":-88},{"t":24.7,"v":-86},{"t":24.75,"v":-87},{"t":24.8,"v":-89},{"t":24.85,"v":-93},{"t":24.91,"v":-90},{"t":24.96,"v":-87},{"t":25.07,"v":-86},{"t":25.12,"v":-86},{"t":25.18,"v":-83},{"t":25.23,"v":-85},{"t":25.28,"v":-88},{"t":25.34,"v":-93},{"t":25.39,"v":-91},{"t":25.44,"v":-92},{"t":25.5,"v":-91},{"t":25.55,"v":-95},{"t":25.6,"v":-86},{"t":25.66,"v":-87},{"t":25.71,"v":-84},{"t":25.76,"v":-85},{"t":25.81,"v":-83},{"t":25.87,"v":-84},{"t":25.92,"v":-85},{"t":25.97,"v":-83},{"t":26.03,"v":-84},{"t":26.08,"v":-82},{"t":26.13,"v":-85},{"t":26.19,"v":-83},{"t":26.24,"v":-84},{"t":26.29,"v":-85},{"t":26.35,"v":-82},{"t":26.4,"v":-80},{"t":26.45,"v":-82},{"t":26.51,"v":-83},{"t":26.56,"v":-85},{"t":26.61,"v":-87},{"t":26.67,"v":-90},{"t":26.72,"v":-95},{"t":26.77,"v":-86},{"t":26.83,"v":-84},{"t":26.88,"v":-85},{"t":26.93,"v":-83},{"t":26.99,"v":-84},{"t":27.04,"v":-85},{"t":27.09,"v":-84},{"t":27.15,"v":-86},{"t":27.2,"v":-85},{"t":27.25,"v":-84},{"t":27.31,"v":-86},{"t":27.36,"v":-85},{"t":27.41,"v":-84},{"t":27.47,"v":-86},{"t":27.52,"v":-85},{"t":27.57,"v":-84},{"t":27.63,"v":-86},{"t":27.68,"v":-85},{"t":27.73,"v":-84},{"t":27.79,"v":-83},{"t":27.84,"v":-85},{"t":27.89,"v":-86},{"t":27.95,"v":-85},{"t":28.0,"v":-86},{"t":28.05,"v":-85},{"t":28.11,"v":-83},{"t":28.16,"v":-86},{"t":28.21,"v":-87},{"t":28.27,"v":-86},{"t":28.32,"v":-87},{"t":28.37,"v":-86},{"t":28.43,"v":-88},{"t":28.48,"v":-87},{"t":28.53,"v":-86},{"t":28.59,"v":-87},{"t":28.64,"v":-86},{"t":28.69,"v":-87},{"t":28.75,"v":-86},{"t":28.8,"v":-87},{"t":28.85,"v":-86},{"t":28.91,"v":-87},{"t":28.96,"v":-86},{"t":29.01,"v":-85},{"t":29.07,"v":-86},{"t":29.12,"v":-87},{"t":29.17,"v":-85},{"t":29.23,"v":-86},{"t":29.28,"v":-87},{"t":29.33,"v":-86},{"t":29.39,"v":-87},{"t":29.44,"v":-89},{"t":29.49,"v":-88},{"t":29.55,"v":-90},{"t":29.6,"v":-88},{"t":29.65,"v":-86},{"t":29.71,"v":-87},{"t":29.76,"v":-89},{"t":29.81,"v":-88},{"t":29.87,"v":-86},{"t":29.92,"v":-88},{"t":29.97,"v":-87},{"t":30.02,"v":-89},{"t":30.08,"v":-88},{"t":30.13,"v":-86},{"t":30.18,"v":-88},{"t":30.24,"v":-89},{"t":30.29,"v":-87},{"t":30.32,"v":-10},{"t":30.35,"v":-89},{"t":30.4,"v":-88},{"t":30.45,"v":-89},{"t":30.5,"v":-88},{"t":30.56,"v":-86},{"t":30.61,"v":-85},{"t":30.66,"v":-84},{"t":30.72,"v":-85},{"t":30.77,"v":-87},{"t":30.82,"v":-85},{"t":30.88,"v":-83},{"t":30.93,"v":-84},{"t":30.98,"v":-86},{"t":31.04,"v":-83},{"t":31.09,"v":-85},{"t":31.14,"v":-84},{"t":31.2,"v":-83},{"t":31.25,"v":-85},{"t":31.3,"v":-82},{"t":31.36,"v":-81},{"t":31.41,"v":-85},{"t":31.46,"v":-83},{"t":31.52,"v":-85},{"t":31.57,"v":-91}],
"hpj": [{"t":0.01,"v":-10},{"t":1.48,"v":-10},{"t":1.56,"v":-10},{"t":3.58,"v":-10},{"t":4.23,"v":-10},{"t":4.66,"v":-10},{"t":5.15,"v":-10},{"t":5.23,"v":-10},{"t":5.35,"v":-10},{"t":6.07,"v":-10},{"t":6.64,"v":-10},{"t":6.84,"v":-10},{"t":7.25,"v":-10},{"t":7.35,"v":-10},{"t":7.52,"v":-10},{"t":7.66,"v":-10},{"t":8.07,"v":-10},{"t":8.37,"v":-10},{"t":8.47,"v":-10},{"t":8.58,"v":-10},{"t":8.68,"v":-10},{"t":8.78,"v":-10},{"t":8.88,"v":-10},{"t":8.98,"v":-10},{"t":9.09,"v":-10},{"t":9.43,"v":-10},{"t":9.68,"v":-10},{"t":9.92,"v":-10},{"t":10.37,"v":-10},{"t":10.82,"v":-10},{"t":10.98,"v":-10},{"t":11.08,"v":-10},{"t":11.23,"v":-10},{"t":12.04,"v":-10},{"t":12.17,"v":-10},{"t":12.29,"v":-10},{"t":12.45,"v":-10},{"t":12.82,"v":-10},{"t":13.23,"v":-10},{"t":13.67,"v":-10},{"t":13.78,"v":-10},{"t":13.88,"v":-10},{"t":13.98,"v":-10},{"t":14.08,"v":-10},{"t":14.39,"v":-10},{"t":14.53,"v":-10},{"t":14.86,"v":-10},{"t":15.04,"v":-10},{"t":15.71,"v":-10},{"t":15.92,"v":-10},{"t":16.43,"v":-10},{"t":17.24,"v":-10},{"t":17.45,"v":-10},{"t":17.55,"v":-10},{"t":17.92,"v":-10},{"t":18.0,"v":-10},{"t":18.87,"v":-10},{"t":19.69,"v":-10},{"t":19.75,"v":-10},{"t":20.4,"v":-10},{"t":20.61,"v":-10},{"t":20.85,"v":-10},{"t":21.02,"v":-10},{"t":21.18,"v":-10},{"t":21.53,"v":-10},{"t":21.99,"v":-10},{"t":22.14,"v":-10},{"t":22.24,"v":-10},{"t":22.38,"v":-10},{"t":22.48,"v":-10},{"t":23.01,"v":-10},{"t":23.16,"v":-10},{"t":23.26,"v":-10},{"t":23.63,"v":-10},{"t":23.97,"v":-10},{"t":24.62,"v":-10},{"t":24.79,"v":-10},{"t":25.2,"v":-10},{"t":25.71,"v":-10},{"t":25.81,"v":-10},{"t":25.91,"v":-10},{"t":26.11,"v":-10},{"t":26.26,"v":-10},{"t":26.42,"v":-10},{"t":26.64,"v":-10},{"t":26.77,"v":-10},{"t":26.93,"v":-10},{"t":27.91,"v":-10},{"t":28.05,"v":-10},{"t":28.76,"v":-10},{"t":28.87,"v":-10},{"t":29.99,"v":-10},{"t":30.13,"v":-10},{"t":30.4,"v":-10},{"t":31.01,"v":-10},{"t":31.31,"v":-10},{"t":31.41,"v":-10},{"t":31.52,"v":-10},{"t":0.93,"v":-44},{"t":1.3,"v":-44},{"t":1.52,"v":-44},{"t":3.4,"v":-44},{"t":5.72,"v":-44},{"t":6.03,"v":-44},{"t":6.29,"v":-44},{"t":7.03,"v":-44},{"t":10.25,"v":-44},{"t":10.51,"v":-44},{"t":11.43,"v":-44},{"t":11.9,"v":-44},{"t":12.57,"v":-44},{"t":15.1,"v":-44},{"t":15.45,"v":-44},{"t":18.36,"v":-44},{"t":18.53,"v":-44},{"t":20.91,"v":-44},{"t":21.93,"v":-44},{"t":22.48,"v":-44},{"t":22.65,"v":-44},{"t":23.16,"v":-44},{"t":23.6,"v":-44},{"t":24.24,"v":-44},{"t":24.34,"v":-44},{"t":24.54,"v":-44},{"t":26.32,"v":-44},{"t":28.01,"v":-44},{"t":28.87,"v":-44},{"t":30.03,"v":-44},{"t":30.4,"v":-44},{"t":0.77,"v":-45},{"t":1.75,"v":-45},{"t":2.11,"v":-45},{"t":3.89,"v":-45},{"t":5.03,"v":-45},{"t":5.48,"v":-45},{"t":6.58,"v":-45},{"t":7.37,"v":-45},{"t":10.72,"v":-45},{"t":11.94,"v":-45},{"t":12.86,"v":-45},{"t":13.8,"v":-45},{"t":13.96,"v":-45},{"t":14.96,"v":-45},{"t":15.53,"v":-45},{"t":16.33,"v":-45},{"t":17.04,"v":-45},{"t":17.18,"v":-45},{"t":20.71,"v":-45},{"t":21.22,"v":-45},{"t":21.63,"v":-45},{"t":21.79,"v":-45},{"t":22.75,"v":-45},{"t":23.87,"v":-45},{"t":24.48,"v":-45},{"t":25.54,"v":-45},{"t":26.42,"v":-45},{"t":27.95,"v":-45},{"t":28.25,"v":-45},{"t":30.5,"v":-45},{"t":30.8,"v":-45},{"t":9.64,"v":-46},{"t":11.9,"v":-46},{"t":11.98,"v":-46},{"t":14.94,"v":-46},{"t":15.77,"v":-46},{"t":15.98,"v":-46},{"t":22.59,"v":-46},{"t":24.03,"v":-46},{"t":29.72,"v":-46},{"t":29.95,"v":-46},{"t":18.41,"v":-47},{"t":14.02,"v":-57},{"t":31.48,"v":-79},{"t":0.1,"v":-95},{"t":0.7,"v":-95},{"t":1.0,"v":-95},{"t":1.2,"v":-95},{"t":1.4,"v":-95},{"t":1.6,"v":-95},{"t":1.7,"v":-95},{"t":1.8,"v":-95},{"t":2.3,"v":-95},{"t":2.5,"v":-95},{"t":2.6,"v":-95},{"t":2.7,"v":-95},{"t":2.8,"v":-95},{"t":3.2,"v":-95},{"t":3.3,"v":-95},{"t":3.4,"v":-95},{"t":3.5,"v":-95},{"t":3.6,"v":-95},{"t":3.7,"v":-95},{"t":3.8,"v":-95},{"t":4.6,"v":-95},{"t":5.0,"v":-95},{"t":5.6,"v":-95},{"t":5.7,"v":-95},{"t":6.2,"v":-95},{"t":6.3,"v":-95},{"t":6.8,"v":-95},{"t":8.0,"v":-95},{"t":8.2,"v":-95},{"t":8.3,"v":-95},{"t":8.5,"v":-95},{"t":8.6,"v":-95},{"t":9.1,"v":-95},{"t":9.3,"v":-95},{"t":9.9,"v":-95},{"t":10.1,"v":-95},{"t":10.2,"v":-95},{"t":10.3,"v":-95},{"t":10.4,"v":-95},{"t":12.1,"v":-95},{"t":12.3,"v":-95},{"t":13.6,"v":-95},{"t":13.8,"v":-95},{"t":14.5,"v":-95},{"t":14.7,"v":-95},{"t":14.9,"v":-95},{"t":15.1,"v":-95},{"t":15.3,"v":-95},{"t":15.5,"v":-95},{"t":15.7,"v":-95},{"t":16.7,"v":-95},{"t":16.9,"v":-95},{"t":17.7,"v":-95},{"t":18.6,"v":-95},{"t":18.8,"v":-95},{"t":19.0,"v":-95},{"t":19.3,"v":-95},{"t":19.5,"v":-95},{"t":19.9,"v":-95},{"t":20.3,"v":-95},{"t":20.6,"v":-95},{"t":20.8,"v":-95},{"t":21.0,"v":-95},{"t":21.6,"v":-95},{"t":22.5,"v":-95},{"t":22.8,"v":-95},{"t":23.1,"v":-95},{"t":23.6,"v":-95},{"t":24.0,"v":-95},{"t":24.8,"v":-95},{"t":25.2,"v":-95},{"t":25.7,"v":-95},{"t":26.1,"v":-95},{"t":26.4,"v":-95},{"t":27.3,"v":-95},{"t":27.6,"v":-95},{"t":28.5,"v":-95},{"t":28.9,"v":-95},{"t":29.8,"v":-95},{"t":30.4,"v":-95},{"t":30.6,"v":-95},{"t":30.9,"v":-95},{"t":31.2,"v":-95},{"t":31.3,"v":-95},{"t":0.05,"v":-94},{"t":0.4,"v":-94},{"t":0.6,"v":-94},{"t":0.7,"v":-94},{"t":0.8,"v":-94},{"t":0.9,"v":-94},{"t":1.2,"v":-94},{"t":1.4,"v":-94},{"t":1.8,"v":-94},{"t":2.0,"v":-94},{"t":2.2,"v":-94},{"t":2.5,"v":-94},{"t":2.6,"v":-94},{"t":2.8,"v":-94},{"t":3.0,"v":-94},{"t":3.5,"v":-94},{"t":3.6,"v":-94},{"t":3.9,"v":-94},{"t":4.1,"v":-94},{"t":4.3,"v":-94},{"t":4.7,"v":-94},{"t":5.1,"v":-94},{"t":5.3,"v":-94},{"t":5.8,"v":-94},{"t":5.9,"v":-94},{"t":6.1,"v":-94},{"t":6.4,"v":-94},{"t":6.5,"v":-94},{"t":6.7,"v":-94},{"t":7.0,"v":-94},{"t":7.2,"v":-94},{"t":7.4,"v":-94},{"t":7.5,"v":-94},{"t":7.8,"v":-94},{"t":8.1,"v":-94},{"t":8.3,"v":-94},{"t":8.9,"v":-94},{"t":9.0,"v":-94},{"t":9.2,"v":-94},{"t":9.6,"v":-94},{"t":9.8,"v":-94},{"t":10.0,"v":-94},{"t":10.5,"v":-94},{"t":10.9,"v":-94},{"t":11.3,"v":-94},{"t":11.5,"v":-94},{"t":12.2,"v":-94},{"t":12.4,"v":-94},{"t":12.6,"v":-94},{"t":13.2,"v":-94},{"t":13.6,"v":-94},{"t":14.1,"v":-94},{"t":14.3,"v":-94},{"t":14.6,"v":-94},{"t":14.9,"v":-94},{"t":15.3,"v":-94},{"t":15.7,"v":-94},{"t":15.9,"v":-94},{"t":16.4,"v":-94},{"t":16.7,"v":-94},{"t":17.0,"v":-94},{"t":17.6,"v":-94},{"t":18.1,"v":-94},{"t":18.3,"v":-94},{"t":18.7,"v":-94},{"t":18.9,"v":-94},{"t":19.4,"v":-94},{"t":19.8,"v":-94},{"t":20.5,"v":-94},{"t":20.8,"v":-94},{"t":21.0,"v":-94},{"t":21.3,"v":-94},{"t":22.0,"v":-94},{"t":22.3,"v":-94},{"t":22.7,"v":-94},{"t":23.3,"v":-94},{"t":23.8,"v":-94},{"t":24.2,"v":-94},{"t":24.6,"v":-94},{"t":25.0,"v":-94},{"t":25.3,"v":-94},{"t":25.6,"v":-94},{"t":25.9,"v":-94},{"t":26.2,"v":-94},{"t":26.6,"v":-94},{"t":27.0,"v":-94},{"t":27.3,"v":-94},{"t":27.8,"v":-94},{"t":28.2,"v":-94},{"t":28.5,"v":-94},{"t":29.1,"v":-94},{"t":29.4,"v":-94},{"t":29.9,"v":-94},{"t":30.5,"v":-94},{"t":31.5,"v":-94},{"t":0.3,"v":-93},{"t":0.5,"v":-93},{"t":1.9,"v":-93},{"t":2.2,"v":-93},{"t":2.9,"v":-93},{"t":4.0,"v":-93},{"t":4.4,"v":-93},{"t":5.8,"v":-93},{"t":5.9,"v":-93},{"t":6.2,"v":-93},{"t":6.7,"v":-93},{"t":6.8,"v":-93},{"t":6.9,"v":-93},{"t":8.0,"v":-93},{"t":8.2,"v":-93},{"t":8.3,"v":-93},{"t":8.5,"v":-93},{"t":8.6,"v":-93},{"t":9.4,"v":-93},{"t":9.8,"v":-93},{"t":9.9,"v":-93},{"t":10.1,"v":-93},{"t":11.0,"v":-93},{"t":11.3,"v":-93},{"t":11.5,"v":-93},{"t":11.6,"v":-93},{"t":11.7,"v":-93},{"t":15.4,"v":-93},{"t":15.8,"v":-93},{"t":16.8,"v":-93},{"t":17.4,"v":-93},{"t":18.0,"v":-93},{"t":18.3,"v":-93},{"t":18.6,"v":-93},{"t":21.2,"v":-93},{"t":23.9,"v":-93},{"t":25.0,"v":-93},{"t":25.2,"v":-93},{"t":25.6,"v":-93},{"t":25.8,"v":-93},{"t":26.8,"v":-93},{"t":27.2,"v":-93},{"t":28.0,"v":-93},{"t":28.2,"v":-93},{"t":28.4,"v":-93},{"t":28.8,"v":-93},{"t":29.3,"v":-93},{"t":3.0,"v":-92},{"t":6.5,"v":-92},{"t":7.8,"v":-92},{"t":8.6,"v":-92},{"t":9.5,"v":-92},{"t":9.7,"v":-92},{"t":15.3,"v":-92},{"t":16.2,"v":-92},{"t":16.9,"v":-92},{"t":19.3,"v":-92},{"t":20.6,"v":-92},{"t":26.5,"v":-92},{"t":30.0,"v":-92}],
"zm": [{"t":2.72,"v":-10},{"t":2.83,"v":-10},{"t":3.07,"v":-10},{"t":3.23,"v":-10},{"t":5.56,"v":-10},{"t":6.8,"v":-10},{"t":7.31,"v":-10},{"t":7.45,"v":-10},{"t":7.72,"v":-10},{"t":9.39,"v":-10},{"t":9.9,"v":-10},{"t":10.41,"v":-10},{"t":10.88,"v":-10},{"t":11.84,"v":-10},{"t":12.78,"v":-10},{"t":12.9,"v":-10},{"t":13.21,"v":-10},{"t":14.76,"v":-10},{"t":15.1,"v":-10},{"t":15.31,"v":-10},{"t":15.67,"v":-10},{"t":17.35,"v":-10},{"t":18.32,"v":-10},{"t":20.2,"v":-10},{"t":20.3,"v":-10},{"t":20.51,"v":-10},{"t":20.61,"v":-10},{"t":21.02,"v":-10},{"t":21.59,"v":-10},{"t":23.1,"v":-10},{"t":27.85,"v":-10},{"t":27.95,"v":-10},{"t":28.25,"v":-10},{"t":29.48,"v":-10},{"t":30.23,"v":-10},{"t":31.62,"v":-10},{"t":23.4,"v":-44},{"t":25.26,"v":-44},{"t":2.56,"v":-45},{"t":10.0,"v":-45},{"t":15.24,"v":-45},{"t":24.07,"v":-45},{"t":25.15,"v":-45},{"t":26.64,"v":-45},{"t":27.48,"v":-45},{"t":1.07,"v":-46},{"t":20.85,"v":-46},{"t":21.36,"v":-46},{"t":1.6,"v":-90},{"t":0.5,"v":-95},{"t":0.9,"v":-95},{"t":1.0,"v":-95},{"t":1.2,"v":-95},{"t":1.4,"v":-95},{"t":2.0,"v":-95},{"t":2.3,"v":-95},{"t":2.6,"v":-95},{"t":3.2,"v":-95},{"t":3.4,"v":-95},{"t":3.6,"v":-95},{"t":3.8,"v":-95},{"t":4.7,"v":-95},{"t":5.0,"v":-95},{"t":9.2,"v":-95},{"t":9.3,"v":-95},{"t":9.7,"v":-95},{"t":11.9,"v":-95},{"t":12.5,"v":-95},{"t":12.9,"v":-95},{"t":13.6,"v":-95},{"t":13.9,"v":-95},{"t":14.2,"v":-95},{"t":14.4,"v":-95},{"t":14.5,"v":-95},{"t":14.7,"v":-95},{"t":14.9,"v":-95},{"t":17.3,"v":-95},{"t":17.5,"v":-95},{"t":17.7,"v":-95},{"t":18.1,"v":-95},{"t":18.4,"v":-95},{"t":18.6,"v":-95},{"t":19.9,"v":-95},{"t":20.3,"v":-95},{"t":21.1,"v":-95},{"t":21.4,"v":-95},{"t":21.9,"v":-95},{"t":22.3,"v":-95},{"t":22.5,"v":-95},{"t":22.9,"v":-95},{"t":23.3,"v":-95},{"t":23.6,"v":-95},{"t":25.5,"v":-95},{"t":26.0,"v":-95},{"t":27.8,"v":-95},{"t":28.6,"v":-95},{"t":0.1,"v":-94},{"t":0.2,"v":-94},{"t":0.3,"v":-94},{"t":0.6,"v":-94},{"t":0.75,"v":-94},{"t":0.85,"v":-94},{"t":1.35,"v":-94},{"t":1.45,"v":-94},{"t":1.55,"v":-94},{"t":2.35,"v":-94},{"t":2.5,"v":-94},{"t":2.75,"v":-94},{"t":3.5,"v":-94},{"t":3.7,"v":-94},{"t":4.2,"v":-94},{"t":5.1,"v":-94},{"t":7.1,"v":-94},{"t":8.9,"v":-94},{"t":9.4,"v":-94},{"t":10.0,"v":-94},{"t":10.9,"v":-94},{"t":12.5,"v":-94},{"t":13.3,"v":-94},{"t":15.2,"v":-94},{"t":15.3,"v":-94},{"t":17.0,"v":-94},{"t":17.9,"v":-94},{"t":20.3,"v":-94},{"t":21.3,"v":-94},{"t":21.5,"v":-94},{"t":22.0,"v":-94},{"t":22.7,"v":-94},{"t":23.3,"v":-94},{"t":24.5,"v":-94},{"t":25.3,"v":-94},{"t":25.5,"v":-94},{"t":26.3,"v":-94},{"t":27.5,"v":-94},{"t":0.0,"v":-93},{"t":0.1,"v":-93},{"t":0.2,"v":-93},{"t":0.3,"v":-93},{"t":0.4,"v":-93},{"t":0.5,"v":-93},{"t":1.3,"v":-93},{"t":1.4,"v":-93},{"t":1.7,"v":-93},{"t":1.9,"v":-93},{"t":2.1,"v":-93},{"t":2.2,"v":-93},{"t":2.3,"v":-93},{"t":2.4,"v":-93},{"t":2.5,"v":-93},{"t":3.3,"v":-93},{"t":3.6,"v":-93},{"t":4.9,"v":-93},{"t":5.1,"v":-93},{"t":5.3,"v":-93},{"t":7.6,"v":-93},{"t":8.8,"v":-93},{"t":9.0,"v":-93},{"t":9.4,"v":-93},{"t":12.3,"v":-93},{"t":12.4,"v":-93},{"t":12.5,"v":-93},{"t":14.8,"v":-93},{"t":15.3,"v":-93},{"t":15.5,"v":-93},{"t":17.4,"v":-93},{"t":21.2,"v":-93},{"t":24.8,"v":-93},{"t":25.6,"v":-93},{"t":0.0,"v":-92},{"t":2.9,"v":-92},{"t":3.0,"v":-92},{"t":3.1,"v":-92},{"t":3.3,"v":-92},{"t":3.5,"v":-92},{"t":12.3,"v":-92},{"t":12.6,"v":-92},{"t":13.0,"v":-92},{"t":20.5,"v":-92},{"t":24.5,"v":-92},{"t":26.2,"v":-92}],
"mt2": [{"t":0.05,"v":-84},{"t":0.15,"v":-86},{"t":0.3,"v":-84},{"t":0.4,"v":-85},{"t":0.55,"v":-83},{"t":0.7,"v":-86},{"t":0.9,"v":-85},{"t":1.0,"v":-86},{"t":1.1,"v":-83},{"t":1.25,"v":-84},{"t":1.4,"v":-83},{"t":1.55,"v":-85},{"t":1.7,"v":-84},{"t":1.85,"v":-83},{"t":1.9,"v":-85},{"t":2.0,"v":-84},{"t":2.2,"v":-86},{"t":2.35,"v":-84},{"t":2.5,"v":-85},{"t":2.6,"v":-86},{"t":2.65,"v":-84},{"t":2.8,"v":-83},{"t":2.95,"v":-86},{"t":3.1,"v":-84},{"t":3.2,"v":-85},{"t":3.3,"v":-81},{"t":3.4,"v":-83},{"t":3.5,"v":-81},{"t":3.65,"v":-84},{"t":3.8,"v":-83},{"t":3.95,"v":-82},{"t":4.0,"v":-85},{"t":4.1,"v":-84},{"t":4.25,"v":-83},{"t":4.4,"v":-84},{"t":4.55,"v":-86},{"t":4.7,"v":-84},{"t":4.85,"v":-83},{"t":5.0,"v":-84},{"t":5.1,"v":-83},{"t":5.15,"v":-86},{"t":5.3,"v":-85},{"t":5.45,"v":-82},{"t":5.6,"v":-84},{"t":5.75,"v":-83},{"t":5.9,"v":-86},{"t":6.0,"v":-85},{"t":6.05,"v":-84},{"t":6.2,"v":-85},{"t":6.35,"v":-83},{"t":6.5,"v":-81},{"t":6.65,"v":-84},{"t":6.8,"v":-83},{"t":6.95,"v":-82},{"t":7.0,"v":-85},{"t":7.1,"v":-84},{"t":7.3,"v":-83},{"t":7.45,"v":-82},{"t":7.6,"v":-84},{"t":7.75,"v":-85},{"t":7.9,"v":-83},{"t":8.0,"v":-84},{"t":8.05,"v":-82},{"t":8.2,"v":-84},{"t":8.35,"v":-85},{"t":8.5,"v":-86},{"t":8.65,"v":-84},{"t":8.8,"v":-85},{"t":8.95,"v":-87},{"t":9.0,"v":-84},{"t":9.1,"v":-80},{"t":9.25,"v":-85},{"t":9.4,"v":-86},{"t":9.55,"v":-84},{"t":9.7,"v":-88},{"t":9.85,"v":-85},{"t":9.88,"v":-56},{"t":10.0,"v":-86},{"t":10.05,"v":-83},{"t":10.15,"v":-84},{"t":10.3,"v":-85},{"t":10.45,"v":-87},{"t":10.6,"v":-84},{"t":10.64,"v":-56},{"t":10.75,"v":-86},{"t":10.9,"v":-85},{"t":11.0,"v":-87},{"t":11.05,"v":-84},{"t":11.2,"v":-85},{"t":11.35,"v":-86},{"t":11.5,"v":-84},{"t":11.65,"v":-85},{"t":11.8,"v":-84},{"t":11.95,"v":-85},{"t":12.0,"v":-83},{"t":12.1,"v":-86},{"t":12.21,"v":-56},{"t":12.25,"v":-84},{"t":12.4,"v":-85},{"t":12.55,"v":-84},{"t":12.7,"v":-86},{"t":12.85,"v":-85},{"t":13.0,"v":-87},{"t":13.15,"v":-88},{"t":13.2,"v":-84},{"t":13.3,"v":-85},{"t":13.45,"v":-86},{"t":13.6,"v":-84},{"t":13.75,"v":-89},{"t":13.9,"v":-85},{"t":14.0,"v":-86},{"t":14.05,"v":-84},{"t":14.2,"v":-83},{"t":14.35,"v":-84},{"t":14.5,"v":-85},{"t":14.65,"v":-84},{"t":14.8,"v":-83},{"t":14.95,"v":-85},{"t":15.0,"v":-84},{"t":15.1,"v":-86},{"t":15.25,"v":-87},{"t":15.4,"v":-85},{"t":15.55,"v":-84},{"t":15.7,"v":-86},{"t":15.85,"v":-85},{"t":16.0,"v":-87},{"t":16.05,"v":-85},{"t":16.15,"v":-84},{"t":16.3,"v":-86},{"t":16.45,"v":-85},{"t":16.6,"v":-84},{"t":16.75,"v":-83},{"t":16.9,"v":-85},{"t":17.0,"v":-87},{"t":17.05,"v":-86},{"t":17.2,"v":-84},{"t":17.35,"v":-85},{"t":17.5,"v":-84},{"t":17.65,"v":-85},{"t":17.8,"v":-86},{"t":17.95,"v":-84},{"t":18.0,"v":-86},{"t":18.1,"v":-83},{"t":18.25,"v":-85},{"t":18.4,"v":-84},{"t":18.55,"v":-86},{"t":18.7,"v":-83},{"t":18.85,"v":-84},{"t":19.0,"v":-85},{"t":19.1,"v":-86},{"t":19.15,"v":-84},{"t":19.3,"v":-86},{"t":19.45,"v":-85},{"t":19.6,"v":-87},{"t":19.75,"v":-86},{"t":19.9,"v":-88},{"t":20.05,"v":-85},{"t":20.2,"v":-86},{"t":20.25,"v":-88},{"t":20.35,"v":-84},{"t":20.5,"v":-86},{"t":20.65,"v":-85},{"t":20.8,"v":-86},{"t":20.95,"v":-87},{"t":21.0,"v":-85},{"t":21.1,"v":-86},{"t":21.25,"v":-85},{"t":21.4,"v":-86},{"t":21.55,"v":-85},{"t":21.7,"v":-86},{"t":21.85,"v":-87},{"t":22.0,"v":-86},{"t":22.15,"v":-85},{"t":22.2,"v":-88},{"t":22.3,"v":-86},{"t":22.45,"v":-87},{"t":22.6,"v":-86},{"t":22.75,"v":-85},{"t":22.9,"v":-87},{"t":23.05,"v":-86},{"t":23.1,"v":-85},{"t":23.2,"v":-88},{"t":23.35,"v":-86},{"t":23.5,"v":-87},{"t":23.65,"v":-86},{"t":23.8,"v":-87},{"t":23.95,"v":-85},{"t":24.0,"v":-87},{"t":24.1,"v":-86},{"t":24.25,"v":-88},{"t":24.4,"v":-86},{"t":24.55,"v":-87},{"t":24.7,"v":-86},{"t":24.85,"v":-88},{"t":24.9,"v":-89},{"t":25.0,"v":-87},{"t":25.05,"v":-85},{"t":25.15,"v":-85},{"t":25.3,"v":-86},{"t":25.45,"v":-84},{"t":25.6,"v":-85},{"t":25.64,"v":-56},{"t":25.75,"v":-84},{"t":25.9,"v":-85},{"t":26.0,"v":-85},{"t":26.05,"v":-86},{"t":26.2,"v":-84},{"t":26.35,"v":-85},{"t":26.5,"v":-86},{"t":26.65,"v":-84},{"t":26.8,"v":-85},{"t":26.95,"v":-86},{"t":27.0,"v":-85},{"t":27.1,"v":-84},{"t":27.25,"v":-85},{"t":27.4,"v":-86},{"t":27.55,"v":-84},{"t":27.7,"v":-85},{"t":27.85,"v":-84},{"t":28.0,"v":-86},{"t":28.05,"v":-85},{"t":28.15,"v":-85},{"t":28.3,"v":-84},{"t":28.45,"v":-86},{"t":28.6,"v":-85},{"t":28.75,"v":-84},{"t":28.9,"v":-85},{"t":29.0,"v":-87},{"t":29.05,"v":-86},{"t":29.2,"v":-84},{"t":29.35,"v":-85},{"t":29.5,"v":-86},{"t":29.65,"v":-85},{"t":29.8,"v":-86},{"t":29.95,"v":-84},{"t":30.0,"v":-85},{"t":30.1,"v":-86},{"t":30.25,"v":-85},{"t":30.4,"v":-87},{"t":30.55,"v":-85},{"t":30.7,"v":-86},{"t":30.76,"v":-56},{"t":30.85,"v":-84},{"t":30.87,"v":-56},{"t":31.0,"v":-86},{"t":31.05,"v":-85},{"t":31.15,"v":-85},{"t":31.3,"v":-87},{"t":31.45,"v":-86},{"t":31.55,"v":-84}],
"stats": [{"SSID":"SSID","avg":"Avg RSSI","std":"Std Dev"},{"SSID":"HPJ610a.FE307F","avg":"-68.56","std":"35.08"},{"SSID":"mixzoninc","avg":"-70.67","std":"2.73"},{"SSID":"Zmallory","avg":"-76.81","std":"31.73"},{"SSID":"Gnosis","avg":"-83.94","std":"3.31"},{"SSID":"mixtest2","avg":"-84.73","std":"3.26"},{"SSID":"mixtest","avg":"-84.91","std":"5.85"}]
},
"layer": [
{"layer": [
{"data": {"values": [{"a": 1}]}, "mark": {"type": "rect", "filled": false, "stroke": "#9a9a9a", "strokeWidth": 1.5},
 "encoding": {"x": {"datum": -4.38, "type": "quantitative", "scale": {"domain": [0, 40], "nice": false, "zero": false},
   "axis": {"title": "Time (hh:mm)", "values": [0, 10, 20, 30, 40], "labelExpr": "'00:' + (datum.value < 10 ? '0' : '') + datum.value", "labelFlush": false, "labelOverlap": false, "grid": false, "domain": false, "tickSize": 5, "tickColor": "#bfbfbf", "labelFontSize": 20, "labelPadding": 15, "titleFontSize": 22, "titleFontWeight": "bold", "titlePadding": 13}},
  "x2": {"datum": 60},
  "y": {"datum": 8.83, "type": "quantitative", "scale": {"domain": [-100, 0], "nice": false, "zero": false},
   "axis": {"title": "RSSI", "values": [-100, -90, -80, -70, -60, -50, -40, -30, -20, -10, 0], "labelExpr": "datum.value == 0 ? '0' : '-' + abs(datum.value)", "labelFlush": false, "labelOverlap": false, "titleAngle": 0, "titleFontSize": 19, "titleFontWeight": "bold", "titleX": -93, "titleY": 470, "titleAlign": "center", "titleBaseline": "middle", "labelFontSize": 19, "labelPadding": 14, "tickSize": 5, "tickColor": "#bfbfbf", "domainColor": "#bfbfbf", "gridColor": "#c8c8c8", "grid": true}},
  "y2": {"datum": -130}}},
{"data": {"name": "gn"}, "mark": {"type": "line", "strokeWidth": 1.5, "point": {"filled": true, "size": 12, "shape": "diamond"}},
 "encoding": {"x": {"field": "t", "type": "quantitative"}, "y": {"field": "v", "type": "quantitative"},
  "color": {"datum": "Gnosis", "type": "nominal",
   "scale": {"domain": ["Gnosis", "mixtest", "mixzoninc", "HPJ610a.FE307F", "Zmallory", "mixtest2", "playhaven_north", "DG"], "range": ["#C0504D", "#9BBB59", "#1F78C8", "#4F81BD", "#9BBB59", "#8064A2", "#9DB4D8", "#F79646"]},
   "legend": {"orient": "none", "legendX": 1251, "legendY": 345, "title": "Access Point SSIDs", "titleFontSize": 20, "titleFont": "Lato", "titleFontWeight": "bold", "titleColor": "#000000", "titlePadding": 37, "labelFontSize": 14.5, "labelFont": "Lato", "labelColor": "#000000", "symbolSize": 900, "symbolOffset": 61.5, "rowPadding": 13.9, "padding": 0, "labelOffset": 10, "symbolType": "stroke", "symbolStrokeWidth": 2,
    "encode": {"symbols": {"update": {
      "shape": {"signal": "indexof(['Gnosis','mixtest','mixzoninc'], datum.value) >= 0 ? 'stroke' : 'diamond'"},
      "size": {"signal": "indexof(['Gnosis','mixtest','mixzoninc'], datum.value) >= 0 ? 900 : 18"},
      "stroke": {"signal": "scale('color', datum.value)"},
      "fill": {"signal": "scale('color', datum.value)"},
      "strokeWidth": {"signal": "indexof(['Gnosis','mixtest','mixzoninc'], datum.value) >= 0 ? 2 : 0"},
      "opacity": {"value": 1}}}}}}}},
{"data": {"name": "mt"}, "mark": {"type": "line", "strokeWidth": 1.5, "point": {"filled": true, "size": 12, "shape": "diamond"}},
 "encoding": {"x": {"field": "t", "type": "quantitative"}, "y": {"field": "v", "type": "quantitative"}, "color": {"datum": "mixtest", "type": "nominal"}}},
{"data": {"name": "mz"}, "mark": {"type": "line", "strokeWidth": 2, "point": {"filled": true, "size": 16, "shape": "diamond"}},
 "encoding": {"x": {"field": "t", "type": "quantitative"}, "y": {"field": "v", "type": "quantitative"}, "color": {"datum": "mixzoninc", "type": "nominal"}}},
{"data": {"name": "hpj"}, "mark": {"type": "point", "filled": true, "size": 22, "shape": "diamond", "opacity": 1},
 "encoding": {"x": {"field": "t", "type": "quantitative"}, "y": {"field": "v", "type": "quantitative"}, "color": {"datum": "HPJ610a.FE307F", "type": "nominal"}}},
{"data": {"name": "zm"}, "mark": {"type": "point", "filled": true, "size": 22, "shape": "diamond", "opacity": 1},
 "encoding": {"x": {"field": "t", "type": "quantitative"}, "y": {"field": "v", "type": "quantitative"}, "color": {"datum": "Zmallory", "type": "nominal"}}},
{"data": {"name": "mt2"}, "mark": {"type": "point", "filled": true, "size": 22, "shape": "diamond", "opacity": 1},
 "encoding": {"x": {"field": "t", "type": "quantitative"}, "y": {"field": "v", "type": "quantitative"}, "color": {"datum": "mixtest2", "type": "nominal"}}},
{"data": {"values": [{"a": 1}]}, "mark": {"type": "rect", "fill": "#DCE6F2", "stroke": "#262626", "strokeWidth": 1.5},
 "encoding": {"x": {"datum": 36.57, "type": "quantitative"}, "x2": {"datum": 47}, "y": {"datum": -79.77, "type": "quantitative"}, "y2": {"datum": -95.94}}},
{"data": {"values": [{"a": 1}]}, "mark": {"type": "text", "align": "left", "baseline": "middle", "fontSize": 12.5, "font": "Lato", "color": "#000000"},
 "encoding": {"x": {"datum": 37.75, "type": "quantitative"}, "y": {"datum": -81.28, "type": "quantitative"}, "text": {"value": "Statistics for Stronger Signals"}}},
{"data": {"values": [{"a": 1}]}, "mark": {"type": "text", "align": "center", "baseline": "middle", "fontSize": 13, "font": "Lato", "color": "#000000"},
 "encoding": {"x": {"datum": 36.58, "type": "quantitative"}, "y": {"datum": -107.7, "type": "quantitative"}, "text": {"value": "viewsonic_office_3_plain.txt"}}}
]},
{"data": {"name": "stats"},
 "encoding": {"y": {"field": "SSID", "type": "nominal", "scale": {"type": "point", "domain": ["SSID", "HPJ610a.FE307F", "mixzoninc", "Zmallory", "Gnosis", "mixtest2", "mixtest"], "range": [782.4, 887.5], "padding": 0}, "axis": null}},
 "layer": [
  {"mark": {"type": "text", "align": "left", "baseline": "middle", "fontSize": 13, "font": "Lato", "color": "#000000"}, "encoding": {"x": {"datum": 36.96, "type": "quantitative"}, "text": {"field": "SSID"}}},
  {"mark": {"type": "text", "align": "left", "baseline": "middle", "fontSize": 13, "font": "Lato", "color": "#000000"}, "encoding": {"x": {"datum": 40.62, "type": "quantitative"}, "text": {"field": "avg"}}},
  {"mark": {"type": "text", "align": "left", "baseline": "middle", "fontSize": 13, "font": "Lato", "color": "#000000"}, "encoding": {"x": {"datum": 44.27, "type": "quantitative"}, "text": {"field": "std"}}}
 ]}
],
"resolve": {"scale": {"y": "independent"}}
}
